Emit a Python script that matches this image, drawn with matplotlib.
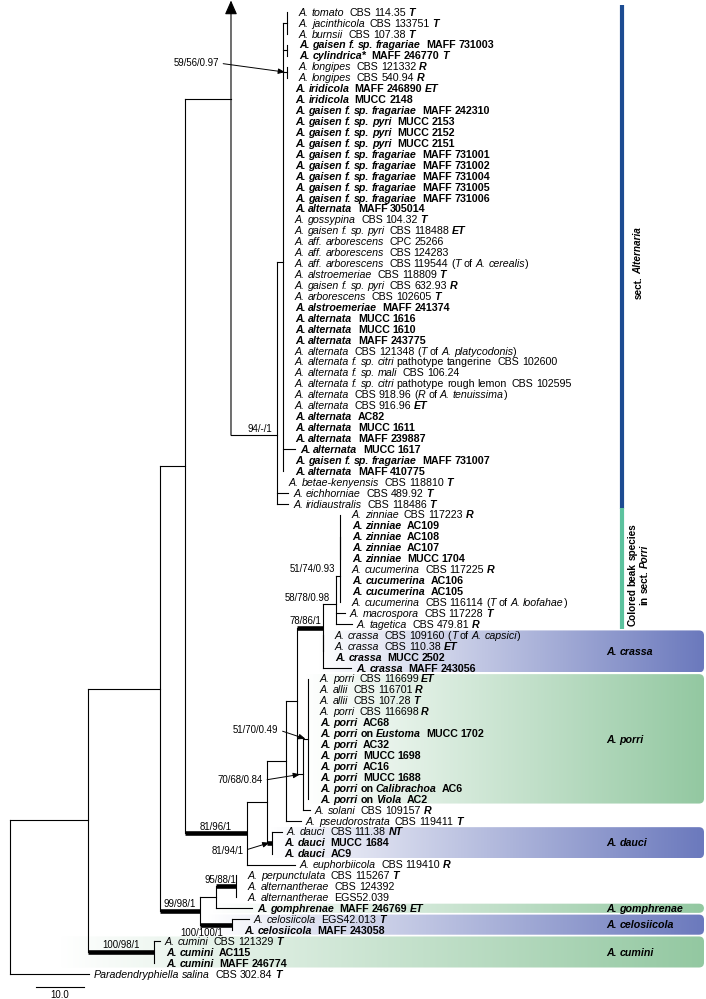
import re

import numpy as np
import matplotlib
matplotlib.use("Agg")
import matplotlib.pyplot as plt
from matplotlib.colors import LinearSegmentedColormap
from matplotlib.font_manager import FontProperties
from matplotlib.patches import FancyBboxPatch

FAMILY = ["Liberation Sans", "DejaVu Sans"]
plt.rcParams["font.family"] = FAMILY

# ---------------------------------------------------------------- data
# _x_ = italic, ^x^ = type designation (bold italic)
taxa = [
    "_A. tomato_  CBS 114.35 ^T^",
    "_A. jacinthicola_  CBS 133751 ^T^",
    "_A. burnsii_  CBS 107.38 ^T^",
    "_A. gaisen f. sp. fragariae_  MAFF 731003",
    "_A. cylindrica*_  MAFF 246770 ^T^",
    "_A. longipes_  CBS 121332 ^R^",
    "_A. longipes_  CBS 540.94 ^R^",
    "_A. iridicola_  MAFF 246890 ^ET^",
    "_A. iridicola_  MUCC 2148",
    "_A. gaisen f. sp. fragariae_  MAFF 242310",
    "_A. gaisen f. sp. pyri_  MUCC 2153",
    "_A. gaisen f. sp. pyri_  MUCC 2152",
    "_A. gaisen f. sp. pyri_  MUCC 2151",
    "_A. gaisen f. sp. fragariae_  MAFF 731001",
    "_A. gaisen f. sp. fragariae_  MAFF 731002",
    "_A. gaisen f. sp. fragariae_  MAFF 731004",
    "_A. gaisen f. sp. fragariae_  MAFF 731005",
    "_A. gaisen f. sp. fragariae_  MAFF 731006",
    "_A. alternata_  MAFF 305014",
    "_A. gossypina_  CBS 104.32 ^T^",
    "_A. gaisen f. sp. pyri_  CBS 118488 ^ET^",
    "_A. aff. arborescens_  CPC 25266",
    "_A. aff. arborescens_  CBS 124283",
    "_A. aff. arborescens_  CBS 119544 (_T_ of _A. cerealis_)",
    "_A. alstroemeriae_  CBS 118809 ^T^",
    "_A. gaisen f. sp. pyri_  CBS 632.93 ^R^",
    "_A. arborescens_  CBS 102605 ^T^",
    "_A. alstroemeriae_  MAFF 241374",
    "_A. alternata_  MUCC 1616",
    "_A. alternata_  MUCC 1610",
    "_A. alternata_  MAFF 243775",
    "_A. alternata_  CBS 121348 (_T_ of _A. platycodonis_)",
    "_A. alternata f. sp. citri_ pathotype tangerine  CBS 102600",
    "_A. alternata f. sp. mali_  CBS 106.24",
    "_A. alternata f. sp. citri_ pathotype rough lemon  CBS 102595",
    "_A. alternata_  CBS 918.96 (_R_ of _A. tenuissima_)",
    "_A. alternata_  CBS 916.96 ^ET^",
    "_A. alternata_  AC82",
    "_A. alternata_  MUCC 1611",
    "_A. alternata_  MAFF 239887",
    "_A. alternata_  MUCC 1617",
    "_A. gaisen f. sp. fragariae_  MAFF 731007",
    "_A. alternata_  MAFF 410775",
    "_A. betae-kenyensis_  CBS 118810 ^T^",
    "_A. eichhorniae_  CBS 489.92 ^T^",
    "_A. iridiaustralis_  CBS 118486 ^T^",
    "_A. zinniae_  CBS 117223 ^R^",
    "_A. zinniae_  AC109",
    "_A. zinniae_  AC108",
    "_A. zinniae_  AC107",
    "_A. zinniae_  MUCC 1704",
    "_A. cucumerina_  CBS 117225 ^R^",
    "_A. cucumerina_  AC106",
    "_A. cucumerina_  AC105",
    "_A. cucumerina_  CBS 116114 (_T_ of _A. loofahae_)",
    "_A. macrospora_  CBS 117228 ^T^",
    "_A. tagetica_  CBS 479.81 ^R^",
    "_A. crassa_  CBS 109160 (_T_ of _A. capsici_)",
    "_A. crassa_  CBS 110.38 ^ET^",
    "_A. crassa_  MUCC 2502",
    "_A. crassa_  MAFF 243056",
    "_A. porri_  CBS 116699 ^ET^",
    "_A. allii_  CBS 116701 ^R^",
    "_A. allii_  CBS 107.28 ^T^",
    "_A. porri_  CBS 116698 ^R^",
    "_A. porri_  AC68",
    "_A. porri_ on _Eustoma_  MUCC 1702",
    "_A. porri_  AC32",
    "_A. porri_  MUCC 1698",
    "_A. porri_  AC16",
    "_A. porri_  MUCC 1688",
    "_A. porri_ on _Calibrachoa_  AC6",
    "_A. porri_ on _Viola_  AC2",
    "_A. solani_  CBS 109157 ^R^",
    "_A. pseudorostrata_  CBS 119411 ^T^",
    "_A. dauci_  CBS 111.38 ^NT^",
    "_A. dauci_  MUCC 1684",
    "_A. dauci_  AC9",
    "_A. euphorbiicola_  CBS 119410 ^R^",
    "_A. perpunctulata_  CBS 115267 ^T^",
    "_A. alternantherae_  CBS 124392",
    "_A. alternantherae_  EGS52.039",
    "_A. gomphrenae_  MAFF 246769 ^ET^",
    "_A. celosiicola_  EGS42.013 ^T^",
    "_A. celosiicola_  MAFF 243058",
    "_A. cumini_  CBS 121329 ^T^",
    "_A. cumini_  AC115",
    "_A. cumini_  MAFF 246774",
    "_Paradendryphiella salina_  CBS 302.84 ^T^",
]
# strains from this study (bold rows)
bold_rows = [3, 4, 7, 8, 9, 10, 11, 12, 13, 14, 15, 16, 17, 18, 27, 28, 29, 30,
             37, 38, 39, 40, 41, 42, 47, 48, 49, 50, 52, 53, 59, 60, 65, 66, 67,
             68, 69, 70, 71, 72, 76, 77, 82, 84, 86, 87]

# internal nodes: name -> (depth from root, children); ints are taxon rows
nodes = {
    "root": (0.0, ["N88", 88]),
    "N88": (16.25, ["N160", "CU"]),
    "N160": (31.25, ["N185", "G"]),
    "N185": (36.46, ["S", "N247"]),
    "S": (55.63, ["I", 43, 44, 45]),
    "I": (56.88, ["T1", "P45", "P67"] + list(range(7, 43))),
    "T1": (57.71, [0, 1, 2]),
    "P45": (57.71, [3, 4]),
    "P67": (57.71, [5, 6]),
    "N247": (49.38, ["N267", 78]),
    "N267": (53.54, ["N286", "D"]),
    "N286": (57.50, ["N297", 74]),
    "N297": (59.79, ["K", "P1"]),
    "K": (65.21, ["C", "CR"]),
    "CR": (65.21, [57, 58, 59, 60]),
    "C": (67.92, ["Z", 55, 56]),
    "Z": (68.75, ["ZI", 51, 52, 53, 54]),
    "ZI": (68.75, [46, 47, 48, 49, 50]),
    "P1": (61.04, ["P2", 73]),
    "P2": (62.08, list(range(61, 73))),
    "D": (54.58, [75, 76, 77]),
    "G": (39.58, ["GS", "CE"]),
    "GS": (42.92, ["PP", 82]),
    "PP": (47.08, [79, 80, 81]),
    "CE": (46.25, [83, 84]),
    "CU": (30.00, [85, 86, 87]),
}
# terminal branch lengths (others are zero)
leaf_bl = {40: 2.5, 44: 2.3, 45: 2.3, 55: 1.87, 56: 3.33, 60: 5.83, 73: 1.46,
           74: 3.13, 75: 2.0, 78: 10.0, 82: 7.5, 83: 3.54, 85: 1.2, 88: 16.46}
# long branch to sect. Alternaria is cut and drawn with an arrow
broken, break_depth, break_row = "S", 46.04, 8

support = {"P67": "59/56/0.97", "S": "94/-/1", "Z": "51/74/0.93", "C": "58/78/0.98",
           "K": "78/86/1", "P2": "51/70/0.49", "P1": "70/68/0.84", "N247": "81/96/1",
           "D": "81/94/1", "PP": "95/88/1", "G": "99/98/1", "CE": "100/100/1",
           "CU": "100/98/1"}
thick = ["K", "N247", "D", "PP", "G", "CE", "CU"]

band_names = ["A. crassa", "A. porri", "A. dauci", "A. gomphrenae", "A. celosiicola", "A. cumini"]
band_rows = [(57, 60), (61, 72), (75, 77), (82, 82), (83, 84), (85, 87)]
band_start = [64.2, 61.5, 54.2, 42.1, 41.0, 10.4]
band_kind = ["blue", "green", "blue", "green", "blue", "green"]

section_labels = [["sect. _Alternaria_"], ["Colored beak species", "in sect. _Porri_"]]
section_rows = [(0, 45), (46, 56)]

# ---------------------------------------------------------------- style
BAND_COL = {"blue": "#6b79bd", "green": "#93c8a1"}
SECTION_COL = ["#1d4c92", "#5cc29e"]
TAXON_SIZE, SUPPORT_SIZE, SECTION_SIZE = 7.7, 6.9, 7.2
LW, THICK_LW = 0.8, 3.3
support_layout = {"P67": ("arrow", -66, -9), "S": ("right", -5, 0), "Z": ("right", -5, 0),
                  "C": ("right", -6, 0), "K": ("centre", -5, 0), "P2": ("arrow", -27, -9),
                  "P1": ("arrow", -37, 6), "N247": ("centre", 0, 0), "D": ("arrow", -26, 8),
                  "PP": ("right", 0, 0), "G": ("centre", 0, 0), "CE": ("below", -9, 3),
                  "CU": ("centre", 0, 0)}

fig = plt.figure(figsize=(7.06, 9.99), dpi=100)
ax = fig.add_axes([0, 0, 1, 1])
XLIM = (-10 / 4.8, 696 / 4.8)
YLIM = ((999 - 12) / 10.93, -12 / 10.93)
ax.set_xlim(*XLIM)
ax.set_ylim(*YLIM)
ax.axis("off")
renderer = fig.canvas.get_renderer()
x_ppu = ax.transData.transform((1, 0))[0] - ax.transData.transform((0, 0))[0]
y_ppu = ax.transData.transform((0, 0))[1] - ax.transData.transform((0, 1))[1]


def px(n):
    return n / x_ppu


def py(n):
    return n / y_ppu


def ux(p):
    return XLIM[0] + p / x_ppu


def uy(p):
    return YLIM[1] + p / y_ppu


# ---------------------------------------------------------------- text helpers
def parse(label):
    segs, cur, style = [], "", "r"
    for ch in label:
        if ch in "_^":
            if cur:
                segs.append((cur, style))
            cur = ""
            mark = "i" if ch == "_" else "c"
            style = "r" if style == mark else mark
        else:
            cur += ch
    if cur:
        segs.append((cur, style))
    return segs


def fprop(style, bold, size):
    return FontProperties(family=FAMILY, size=size,
                          style="normal" if style == "r" else "italic",
                          weight="bold" if bold or style == "c" else "normal")


def width(s, prop):
    w = lambda t: renderer.get_text_width_height_descent(t, prop, ismath=False)[0]
    return w("|" + s + "|") - w("||")


def rich_text(x, y, label, bold, size=TAXON_SIZE, vertical=False, draw=True):
    # one text object per word, mixed styles laid out by measured advance
    pos = 0.0
    for seg, style in parse(label):
        prop = fprop(style, bold, size)
        for part in re.split(r"( +)", seg):
            if not part:
                continue
            if part.strip() and draw:
                if vertical:
                    ax.text(x, y - py(pos), part, fontproperties=prop, rotation=90,
                            rotation_mode="anchor", ha="left", va="baseline")
                else:
                    ax.text(x + px(pos), y, part, fontproperties=prop,
                            ha="left", va="baseline")
            pos += width(part, prop) * (0.9 if not part.strip() else 1.0)
    return pos


# ---------------------------------------------------------------- tree layout
parent = {c: n for n, (_, kids) in nodes.items() for c in kids if isinstance(c, str)}
ypos = {}


def node_y(n):
    if isinstance(n, int):
        return float(n)
    if n not in ypos:
        ypos[n] = float(np.mean([link_y(c) for c in nodes[n][1]]))
    return ypos[n]


def link_y(n):
    return float(break_row) if n == broken else node_y(n)


def hline(x0, x1, y, lw=LW):
    ax.plot([x0, x1], [y, y], color="black", lw=lw,
            solid_capstyle="butt" if lw > 1 else "projecting", zorder=3)


def draw(n):
    depth, kids = nodes[n]
    ys = [link_y(k) for k in kids]
    ax.plot([depth, depth], [min(ys), max(ys)], color="black", lw=LW,
            solid_capstyle="projecting", zorder=3)
    for k in kids:
        if isinstance(k, int):
            bl = leaf_bl.get(k, 0.0)
            if bl > 0:
                hline(depth, depth + bl, k)
                tx = depth + bl + px(5)
            else:
                tx = depth + px(12)
            rich_text(tx, k + py(3.7), taxa[k], k in bold_rows)
            continue
        kd = nodes[k][0]
        if k == broken:
            hline(depth, break_depth, break_row)
            hline(break_depth, kd, node_y(k))
            ax.annotate("", xy=(break_depth, uy(0.5)), xytext=(break_depth, node_y(k)),
                        arrowprops=dict(arrowstyle="-|>,head_length=0.5,head_width=0.22",
                                        mutation_scale=17, lw=LW, color="black",
                                        shrinkA=0, shrinkB=0), zorder=3)
        else:
            hline(depth, kd, node_y(k), THICK_LW if k in thick else LW)
        draw(k)


draw("root")

# ---------------------------------------------------------------- support values
for n, txt in support.items():
    mode, dx, dy = support_layout[n]
    d, y = nodes[n][0], node_y(n)
    pd = nodes[parent[n]][0] if n != broken else break_depth
    if mode == "right":
        ax.text(d + px(dx), y - py(1.5), txt, fontsize=SUPPORT_SIZE, ha="right", va="bottom")
    elif mode == "centre":
        ax.text((d + pd) / 2 + px(dx), y - py(1.5), txt, fontsize=SUPPORT_SIZE,
                ha="center", va="bottom")
    elif mode == "below":
        ax.text(d + px(dx), y + py(dy), txt, fontsize=SUPPORT_SIZE, ha="right", va="top")
    else:
        tgt = ((d + pd) / 2, y)
        ax.annotate(txt, xy=tgt, xytext=(tgt[0] + px(dx), y + py(dy)),
                    fontsize=SUPPORT_SIZE, ha="right", va="center",
                    arrowprops=dict(arrowstyle="-|>,head_length=0.5,head_width=0.2",
                                    mutation_scale=8, lw=0.7, color="black",
                                    relpos=(1, 0.5), shrinkA=1, shrinkB=0))

# ---------------------------------------------------------------- clade bands
x_end = ux(704)
for name, (r0, r1), x0, kind in zip(band_names, band_rows, band_start, band_kind):
    top, bot = r0 - 0.42, r1 + 0.42
    cmap = LinearSegmentedColormap.from_list(kind, ["white", BAND_COL[kind]])
    im = ax.imshow(np.linspace(0, 1, 256)[None, :], cmap=cmap, aspect="auto",
                   extent=(x0, x_end, bot, top), interpolation="bilinear", zorder=0)
    box = FancyBboxPatch((x0, top), x_end - x0, bot - top,
                         boxstyle=f"round,pad=0,rounding_size={px(5)}",
                         mutation_aspect=x_ppu / y_ppu, fc="none", ec="none")
    ax.add_patch(box)
    im.set_clip_path(box)
    rich_text(ux(606), (r0 + r1) / 2 + py(3.7), f"_{name}_", True)

# ---------------------------------------------------------------- section bars
for lines, (r0, r1), col in zip(section_labels, section_rows, SECTION_COL):
    ax.plot([ux(622), ux(622)], [r0 - 0.6, r1 + 0.45], color=col, lw=3.0,
            solid_capstyle="butt")
    centre = (r0 + r1) / 2 + 0.5
    base = 641.6 - 6 * (len(lines) - 1)
    for i, line in enumerate(lines):
        w = rich_text(0, 0, line, True, SECTION_SIZE, draw=False)
        rich_text(ux(base + 12 * i), centre + py(w / 2), line, True,
                  SECTION_SIZE, vertical=True)

# ---------------------------------------------------------------- scale bar
sb0 = ux(36)
ax.plot([sb0, sb0 + 10], [uy(987), uy(987)], color="black", lw=LW)
ax.text(sb0 + 5, uy(989.5), "10.0", fontsize=SUPPORT_SIZE, ha="center", va="top")

ax.set_xlim(*XLIM)
ax.set_ylim(*YLIM)
fig.savefig("out.png", dpi=100)
